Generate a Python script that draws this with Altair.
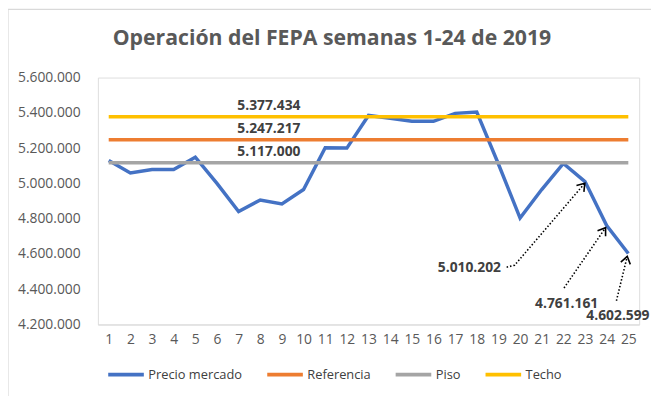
import altair as alt
import pandas as pd
import numpy as np

# ---------------- data ----------------
weeks = list(range(1, 26))
precio = [5130000, 5059000, 5079000, 5079000, 5148000, 5000000, 4840000, 4906000,
          4883000, 4965000, 5202000, 5200000, 5385000, 5369000, 5352000, 5352000,
          5397000, 5404000, 5110000, 4803000, 4965000, 5113000, 5010202, 4761161,
          4602599]
referencia = 5247217
piso = 5117000
techo = 5377434

series_names = ["Precio mercado", "Referencia", "Piso", "Techo"]
series_colors = ["#4472C4", "#ED7D31", "#A5A5A5", "#FFC000"]

y_ticks = [4200000, 4400000, 4600000, 4800000, 5000000, 5200000, 5400000, 5600000]

title_text = "Operación del FEPA semanas 1-24 de 2019"

# reference-line labels (week position where the label sits)
ref_label_week = [8.4, 8.4, 8.4]
ref_label_value = [techo, referencia, piso]

# callout annotations for the last three weeks
callout_weeks = [23, 24, 25]
callout_text_week = [17.66, 22.15, 24.52]
callout_text_value = [4519000, 4317600, 4250400]
# leader line paths (week, value) from the label towards the point
leader_paths = [
    [(19.38, 4524800), (19.75, 4536000), (22.99, 5000800)],
    [(22.03, 4407200), (23.95, 4748800)],
    [(24.45, 4334400), (24.95, 4586400)],
]


def fmt(v):
    return f"{int(round(v)):,}".replace(",", ".")


# ---------------- frames ----------------
W, H = 548, 250
x_dom = [0.5, 25.5]
y_dom = [4200000, 5600000]
px_per_week = W / (x_dom[1] - x_dom[0])
px_per_val = H / (y_dom[1] - y_dom[0])

rows = []
for s, vals in zip(series_names, [precio, [referencia] * 25, [piso] * 25, [techo] * 25]):
    for w, v in zip(weeks, vals):
        rows.append({"week": w, "value": v, "serie": s})
lines_df = pd.DataFrame(rows)

ref_df = pd.DataFrame({"week": ref_label_week, "value": ref_label_value,
                       "label": [fmt(v) for v in ref_label_value]})

call_df = pd.DataFrame({"week": callout_text_week, "value": callout_text_value,
                        "label": [fmt(precio[w - 1]) for w in callout_weeks]})

lead_rows = []
head_rows = []
for i, path in enumerate(leader_paths):
    for j, (w, v) in enumerate(path):
        lead_rows.append({"id": i, "ord": j, "week": w, "value": v})
    (w0, v0), (w1, v1) = path[-2], path[-1]
    dx = (w1 - w0) * px_per_week
    dy = (v1 - v0) * px_per_val
    ang = float(np.degrees(np.arctan2(dx, dy)))
    head_rows.append({"week": w1, "value": v1, "angle": ang})
lead_df = pd.DataFrame(lead_rows)
head_df = pd.DataFrame(head_rows)

FONT = "Open Sans"
ylab = "replace(format(datum.value, ',.0f'), /,/g, '.')"

x_axis = alt.Axis(values=weeks, title=None, grid=False, ticks=False,
                  labelAngle=0, domainColor="#D9D9D9", domainWidth=1.2,
                  labelFontSize=14, labelColor="#595959", labelFont=FONT,
                  labelPadding=8, labelFlush=False, labelOverlap=False)
y_axis = alt.Axis(values=y_ticks, title=None, grid=False, ticks=False,
                  domain=False, labelExpr=ylab, labelFontSize=14,
                  labelColor="#595959", labelFont=FONT, labelPadding=18,
                  labelOverlap=False, labelFlush=False)
x_scale = alt.Scale(domain=x_dom, nice=False, zero=False)
y_scale = alt.Scale(domain=y_dom, nice=False, zero=False)


def X():
    return alt.X("week:Q", scale=x_scale, axis=x_axis)


def Y():
    return alt.Y("value:Q", scale=y_scale, axis=y_axis)


lines = alt.Chart(lines_df).mark_line(strokeWidth=3.5, strokeCap="butt").encode(
    x=X(), y=Y(),
    color=alt.Color("serie:N", scale=alt.Scale(domain=series_names, range=series_colors),
                    sort=series_names,
                    legend=alt.Legend(title=None, orient="none", direction="horizontal",
                                      legendX=8, legendY=280, symbolType="stroke",
                                      symbolSize=1300, symbolStrokeWidth=4,
                                      labelFont=FONT, labelFontSize=13,
                                      labelColor="#404040", columnPadding=16,
                                      labelOffset=2, padding=0)),
    order=alt.Order("ord:Q"),
).transform_calculate(ord="indexof(['Precio mercado','Referencia','Piso','Techo'], datum.serie)")

ref_text = alt.Chart(ref_df).mark_text(font=FONT, fontSize=14, fontWeight="bold",
                                       color="#404040", dy=-11, baseline="middle").encode(
    x=X(), y=Y(), text="label:N")

leaders = alt.Chart(lead_df).mark_line(color="black", strokeWidth=1.6,
                                       strokeDash=[1.5, 2]).encode(
    x=X(), y=Y(), detail="id:N", order="ord:Q")

heads = alt.Chart(head_df).mark_point(shape="M-0.55,0.8L0,0L0.55,0.8", filled=False,
                                      color="black", strokeWidth=1.6, size=324,
                                      opacity=1).encode(
    x=X(), y=Y(), angle=alt.Angle("angle:Q", scale=None))

call_text = alt.Chart(call_df).mark_text(font=FONT, fontSize=14, fontWeight="bold",
                                         color="#404040", baseline="middle").encode(
    x=X(), y=Y(), text="label:N")

title = alt.Chart(pd.DataFrame({"t": [title_text]})).mark_text(
    font=FONT, fontSize=21.5, fontWeight="bold", color="#595959", baseline="middle",
    align="center").encode(x=alt.value(237), y=alt.value(-39), text="t:N")

border_left = alt.Chart(pd.DataFrame({"k": [0]})).mark_rule(color="#D9D9D9", strokeWidth=1.2).encode(
    x=alt.value(-91), y=alt.value(-69), y2=alt.value(330))
border_top = alt.Chart(pd.DataFrame({"k": [0]})).mark_rule(color="#D9D9D9", strokeWidth=1.2).encode(
    x=alt.value(-91), x2=alt.value(560), y=alt.value(-69))

chart = alt.layer(lines, ref_text, leaders, heads, call_text, title, border_left, border_top).properties(
    width=W, height=H,
    padding={"left": 91, "top": 68, "right": 12, "bottom": 70},
    autosize=alt.AutoSizeParams(type="none"),
).configure_view(stroke=None).configure(background="white")

chart.save("out.html", embed_options={"renderer": "svg", "actions": False})
